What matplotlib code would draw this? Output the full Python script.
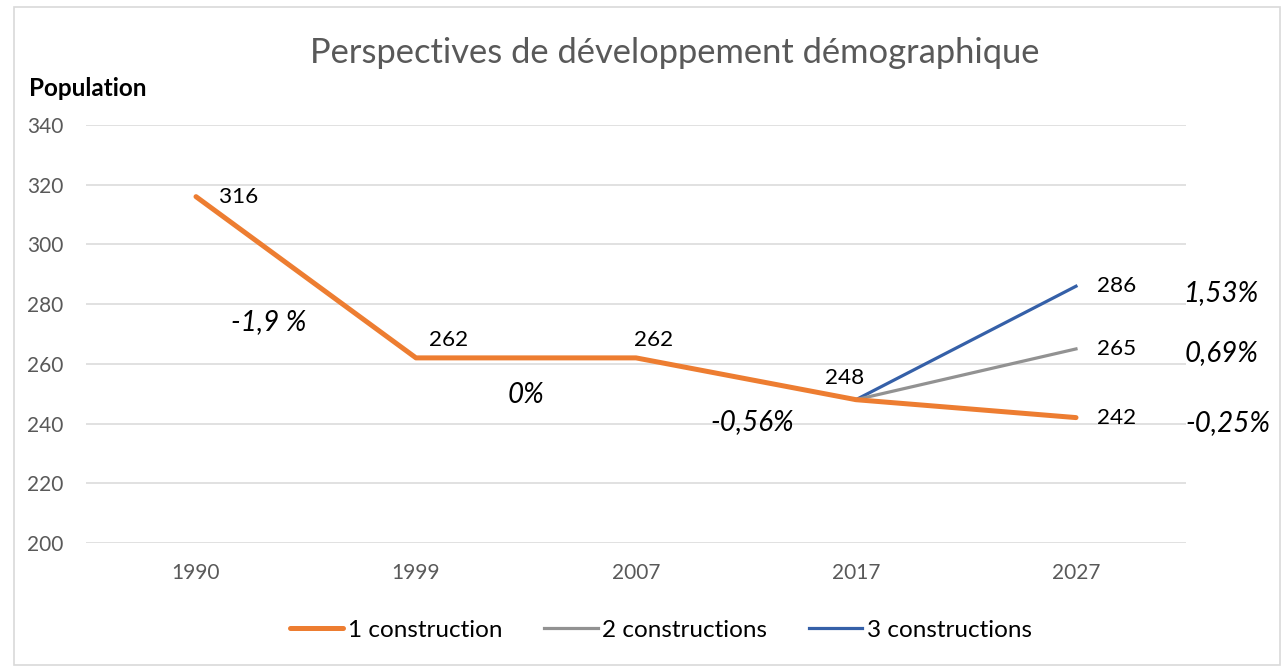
import matplotlib
matplotlib.use('Agg')
import matplotlib.pyplot as plt
import numpy as np
from matplotlib.patches import Rectangle

# data
years = ['1990', '1999', '2007', '2017', '2027']
one_construction = [316, 262, 262, 248, 242]
two_constructions = [np.nan, np.nan, np.nan, 248, 265]
three_constructions = [np.nan, np.nan, np.nan, 248, 286]

# growth rate notes (x index, y value, text)
rate_x = [0.33, 1.5, 2.53, 4.66, 4.66, 4.69]
rate_y = [274, 249.6, 240.5, 283.8, 263.5, 240.2]
rate_txt = ['-1,9 %', '0%', '-0,56%', '1,53%', '0,69%', '-0,25%']

plt.rcParams['font.family'] = ['Lato', 'DejaVu Sans']

fig = plt.figure(figsize=(12.84, 6.67), dpi=100)
ax = fig.add_axes([86 / 1284, 1 - 543 / 667, 1100 / 1284, 418 / 667])

# light frame around the whole chart
fig.patches.append(Rectangle((14 / 1284, 2 / 667), 1266 / 1284, 658 / 667,
                             transform=fig.transFigure, fill=False,
                             edgecolor='#d9d9d9', lw=1.2))

x = np.arange(len(years))
ax.plot(x, three_constructions, color='#3560a8', lw=2.3, label='3 constructions', zorder=3)
ax.plot(x, two_constructions, color='#929292', lw=2.3, label='2 constructions', zorder=3)
ax.plot(x, one_construction, color='#ed7d31', lw=3.6, label='1 construction', zorder=4,
        solid_capstyle='round')

ax.set_xlim(-0.5, 4.5)
ax.set_ylim(200, 340)
ax.set_yticks(range(200, 341, 20))
ax.set_xticks(x)
ax.set_xticklabels(years)
ax.grid(axis='y', color='#d9d9d9', lw=1.1)
ax.set_axisbelow(True)
for s in ax.spines.values():
    s.set_visible(False)
ax.tick_params(length=0, colors='#595959', labelsize=15)
ax.tick_params(axis='x', pad=14.5)
ax.tick_params(axis='y', pad=16.5)

# value labels
lab_off = [(30.5, 0), (23.8, 13), (13, 13), (-8, 15.5), (29.5, 0)]
for i, v in enumerate(one_construction):
    ax.annotate(str(v), (i, v), xytext=lab_off[i], textcoords='offset points',
                ha='center', va='center', fontsize=16.2, color='black')
ax.annotate(str(two_constructions[4]), (4, two_constructions[4]), xytext=(29.5, 0),
            textcoords='offset points', ha='center', va='center', fontsize=16.2)
ax.annotate(str(three_constructions[4]), (4, three_constructions[4]), xytext=(29.5, 0),
            textcoords='offset points', ha='center', va='center', fontsize=16.2)

for rx, ry, t in zip(rate_x, rate_y, rate_txt):
    ax.text(rx, ry, t, ha='center', va='center', fontsize=20, style='italic',
            color='black', clip_on=False)

fig.text(675 / 1284, 1 - 53 / 667, 'Perspectives de développement démographique',
         ha='center', va='center', fontsize=24.8, color='#595959')
fig.text(29 / 1284, 1 - 89 / 667, 'Population', ha='left', va='center',
         fontsize=17.5, fontweight='bold', color='black')

h, l = ax.get_legend_handles_labels()
order = [2, 1, 0]
fig.legend([h[i] for i in order], [l[i] for i in order], loc='center',
           bbox_to_anchor=(661 / 1284, 1 - 630 / 667), ncol=3, frameon=False,
           fontsize=17.5, handlelength=2.2, columnspacing=1.7, handletextpad=0.2)

fig.savefig('out.png', dpi=100)
